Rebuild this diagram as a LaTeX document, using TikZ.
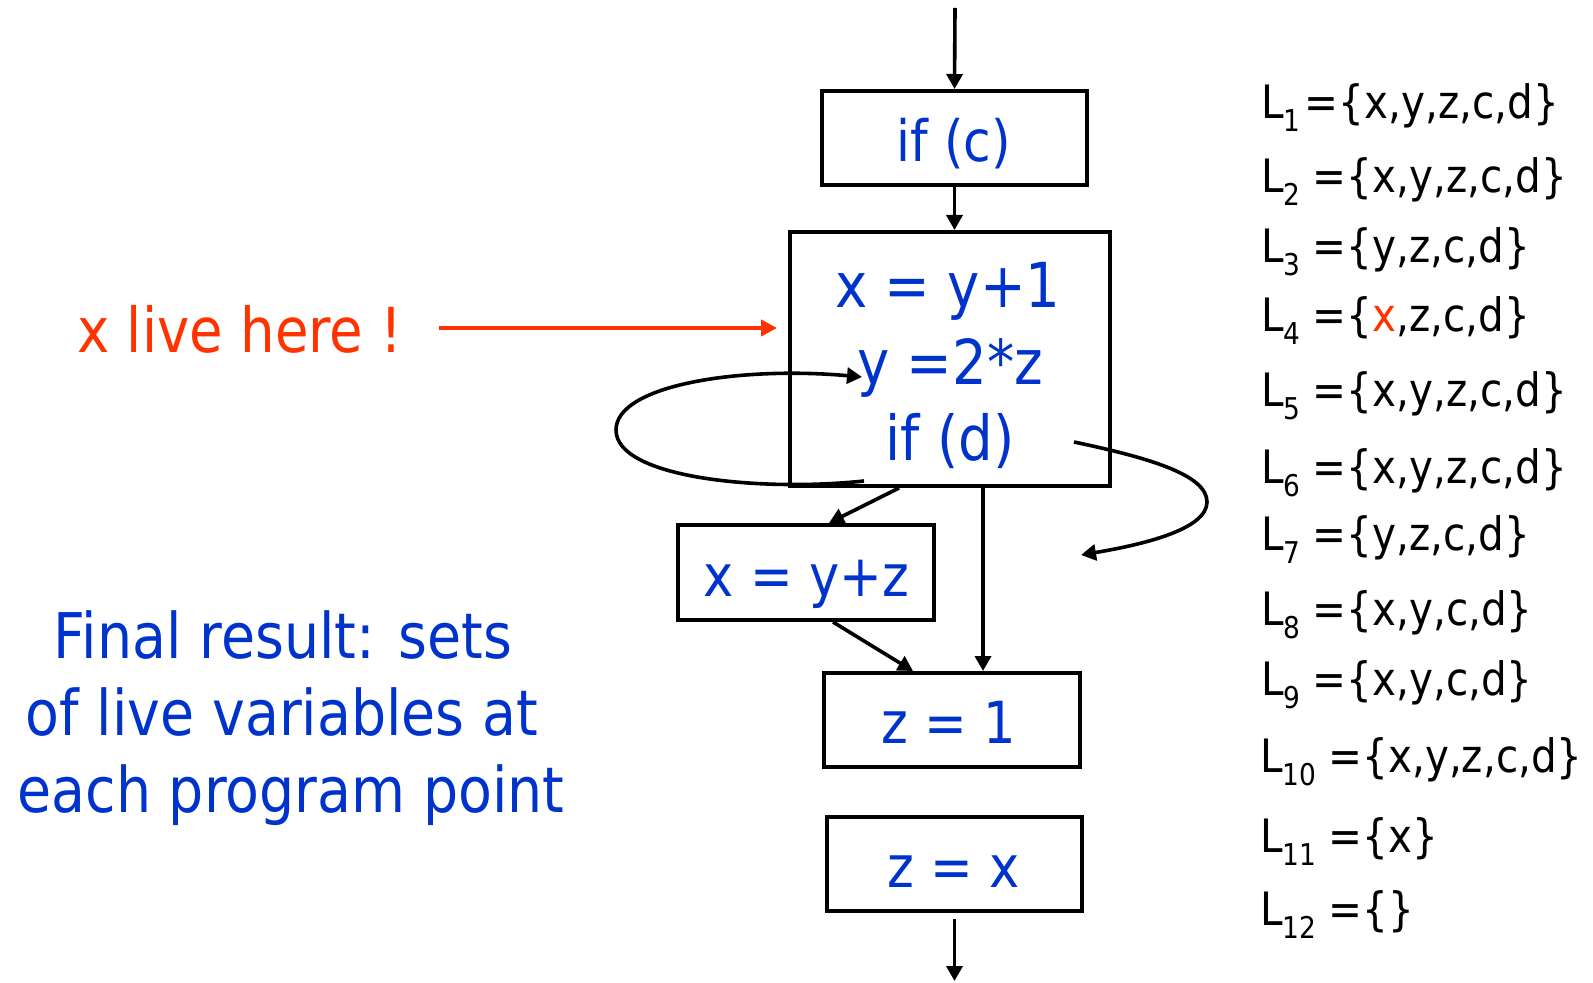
\documentclass[tikz,border=0pt]{standalone}
\usepackage{fontspec}
\setmainfont{DejaVu Sans}[FakeStretch=0.88]
\usetikzlibrary{arrows.meta}
\definecolor{codeblue}{RGB}{0,51,204}
\definecolor{livered}{RGB}{255,51,0}
\newcommand\Lsub[1]{L\raisebox{-6.5pt}{\fontsize{15}{15}\selectfont #1}}
\begin{document}
\begin{tikzpicture}[x=0.5pt,y=-0.5pt,
  box/.style={draw, line width=2pt, inner sep=0pt},
  code/.style={text=codeblue, inner sep=0pt, anchor=base},
  arr/.style={-{Triangle[length=7.5pt,width=8pt]}, line width=1.8pt},
  redarr/.style={-{Triangle[length=8pt,width=8pt]}, line width=2pt, draw=livered},
  lset/.style={anchor=base west, inner sep=0pt, font=\fontsize{23}{23}\selectfont},
  note/.style={text=codeblue, inner sep=0pt, anchor=base, font=\fontsize{31.5}{38}\selectfont}]
\useasboundingbox (0,0) rectangle (1593,983);

% boxes
\node[box, minimum width=132.5pt, minimum height=47pt] (cbox) at (954.5,138) {};
\node[box, minimum width=160pt, minimum height=127pt] (big) at (950,359) {};
\node[box, minimum width=128pt, minimum height=47.5pt] (xyz) at (806,572.5) {};
\node[box, minimum width=128pt, minimum height=47pt] (z1) at (952,720) {};
\node[box, minimum width=127.5pt, minimum height=47pt] (zx) at (954.5,864) {};

% box texts
\node[code, font=\fontsize{28.5}{30}\selectfont] (tc) at (954,162) {if (c)};
\node[code, font=\fontsize{31}{32}\selectfont] (t1) at (948,308) {x = y+1};
\node[code, font=\fontsize{31}{32}\selectfont] (t2) at (950,385) {y =2*z};
\node[code, font=\fontsize{31}{32}\selectfont] (t3) at (950,460) {if (d)};
\node[code, font=\fontsize{29}{30}\selectfont] (txyz) at (806.5,596) {x = y+z};
\node[code, font=\fontsize{29}{30}\selectfont] (tz1) at (949,743) {z = 1};
\node[code, font=\fontsize{29}{30}\selectfont] (tzx) at (954,887) {z = x};

% flow connectors
\coordinate (topin) at (955,8);
\draw[arr] (topin) -- (cbox.north);
\draw[arr] (cbox.south) -- (cbox.south |- big.north);
\draw[arr] ([xshift=-25.5pt]big.south) -- ([xshift=11.5pt]xyz.north);
\draw[arr] ([xshift=16.5pt]big.south) -- ([xshift=16.5pt]big.south |- z1.north);
\draw[arr] ([xshift=13.5pt]xyz.south) -- ([xshift=-19.5pt]z1.north);
\coordinate (out) at (953,981);
\draw[arr] ([yshift=-3pt]zx.south) -- (zx.south |- out);

% loop back and exit curve
\coordinate (loopstart) at (864,481);
\coordinate (loopend) at (862,377);
\draw[arr] (loopstart) .. controls (760,492) and (616,478) .. (616,430)
  .. controls (616,385) and (740,366) .. (loopend);
\coordinate (exitstart) at (1074,442);
\coordinate (exitend) at (1081,555);
\draw[arr] (exitstart) .. controls (1150,458) and (1207,475) .. (1207,502)
  .. controls (1207,530) and (1140,545) .. (exitend);

% red annotation
\node[anchor=base west, inner sep=0pt, text=livered, font=\fontsize{31}{32}\selectfont] (live) at (77,353) {x live here !};
\coordinate (redtip) at (777,328);
\draw[redarr, shorten <=18pt] (live.east |- redtip) -- (redtip);

% final result note
\node[note] (f1) at (283,658) {Final result: sets};
\node[note] (f2) at (282,735) {of live variables at};
\node[note] (f3) at (291,812) {each program point};

% live sets
\node[lset] (L1) at (1261,119) {\Lsub{1}\hspace{2pt}=\{x,y,z,c,d\}};
\node[lset] (L2) at (1261,193) {\Lsub{2}\hspace{6pt}=\{x,y,z,c,d\}};
\node[lset] (L3) at (1261,263) {\Lsub{3}\hspace{6pt}=\{y,z,c,d\}};
\node[lset] (L4) at (1261,332) {\Lsub{4}\hspace{6pt}=\{\textcolor{livered}{x},z,c,d\}};
\node[lset] (L5) at (1261,407) {\Lsub{5}\hspace{6pt}=\{x,y,z,c,d\}};
\node[lset] (L6) at (1261,483) {\Lsub{6}\hspace{6pt}=\{x,y,z,c,d\}};
\node[lset] (L7) at (1261,550) {\Lsub{7}\hspace{6pt}=\{y,z,c,d\}};
\node[lset] (L8) at (1261,625) {\Lsub{8}\hspace{6pt}=\{x,y,c,d\}};
\node[lset] (L9) at (1261,695) {\Lsub{9}\hspace{6pt}=\{x,y,c,d\}};
\node[lset] (L10) at (1260,772) {\Lsub{10}\hspace{6pt}=\{x,y,z,c,d\}};
\node[lset] (L11) at (1260,852) {\Lsub{11}\hspace{6pt}=\{x\}};
\node[lset] (L12) at (1260,925) {\Lsub{12}\hspace{6pt}=\{\}};
\end{tikzpicture}
\end{document}
